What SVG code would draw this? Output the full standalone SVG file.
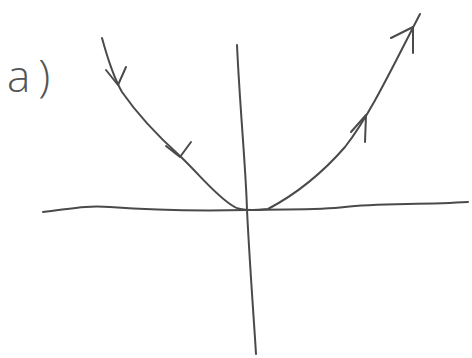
<svg xmlns="http://www.w3.org/2000/svg" width="472" height="358" viewBox="0 0 472 358">
<style>
.ln{fill:none;stroke:#4a4a4a;stroke-width:2;stroke-linecap:round;stroke-linejoin:round}
.lbl{font-family:"Open Sans","Liberation Sans",sans-serif;font-weight:300;font-size:44px;letter-spacing:8px;fill:#555}
</style>
<rect width="472" height="358" fill="#fff"/>
<g id="label"><text class="lbl" x="7" y="92">a)</text></g>
<g id="axes">
<path class="ln" d="M43,212 C70,209 85,205 110,207 C150,210 200,211 247,210 C300,209 320,210 345,207 C375,203 420,205 468,202"/>
<path class="ln" d="M237,45 C240,110 246,170 247,210 C250,270 254,320 256,354"/>
</g>
<g id="connectors">
<path class="ln" d="M102,38 C108,60 114,78 122,92 C140,118 160,138 180,156 C200,175 215,195 233,206 C238,210 250,211 268,209 C300,192 325,170 345,147 C370,115 392,68 420,14"/>
<path class="ln" d="M106,70 L118,85 L126,67"/>
<path class="ln" d="M166,146 L180,157 L191,142"/>
<path class="ln" d="M351,132 L366,115 L365,142"/>
<path class="ln" d="M391,38 L413,27 L413,53"/>
</g>
</svg>
